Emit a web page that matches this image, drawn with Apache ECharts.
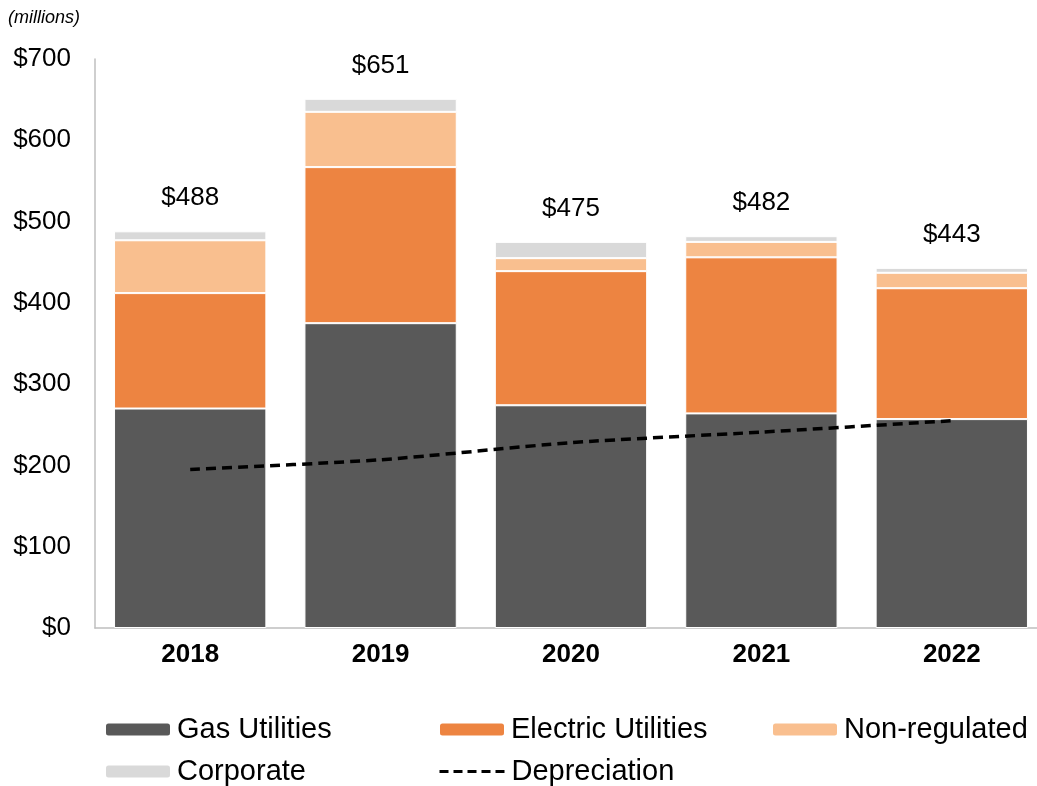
<!DOCTYPE html>
<html lang="en">
<head>
  <meta charset="UTF-8" />
  <title>Capital expenditures</title>
  <script src="https://cdn.jsdelivr.net/npm/echarts@6/dist/echarts.min.js"></script>
  <style>
    html, body { margin: 0; padding: 0; background: #fff; }
    #chart { width: 1037px; height: 786px; }
  </style>
</head>
<body>
  <div id="chart"></div>
  <script>
    var years = ["2018", "2019", "2020", "2021", "2022"];
    var gasUtilities = [270, 375, 274, 264, 257];
    var electricUtilities = [142, 192, 165, 192, 161];
    var nonRegulated = [65, 68, 16, 19, 19];
    var corporate = [11, 16, 20, 7, 6];
    var totals = [488, 651, 475, 482, 443];
    var depreciation = [195, 207, 228, 241, 255];
    var yTicks = [0, 100, 200, 300, 400, 500, 600, 700];

    var font = "'Liberation Sans', Arial, sans-serif";
    var chart = echarts.init(document.getElementById("chart"));

    function barSeries(name, data, color) {
      return {
        name: name,
        type: "bar",
        stack: "capex",
        data: data,
        barCategoryGap: "20%",
        itemStyle: { color: color, borderColor: "#fff", borderWidth: 1 },
        emphasis: { disabled: true }
      };
    }

    var corp = barSeries("Corporate", corporate, "#D9D9D9");
    corp.label = {
      show: true,
      position: "top",
      distance: 20,
      fontFamily: font,
      fontSize: 26,
      color: "#000",
      formatter: function (p) { return "$" + totals[p.dataIndex]; }
    };

    function legendAt(item, left, top) {
      return {
        data: [item],
        left: left,
        top: top,
        itemWidth: 66,
        itemHeight: 14,
        itemGap: 0,
        padding: 0,
        selectedMode: false,
        textStyle: { fontFamily: font, fontSize: 29, color: "#000", padding: [0, 0, 0, 1] }
      };
    }

    chart.setOption({
      animation: false,
      title: {
        text: "(millions)",
        left: 8,
        top: 9,
        padding: 0,
        textStyle: { fontFamily: font, fontSize: 18, fontStyle: "italic", fontWeight: "normal", color: "#000" }
      },
      legend: [
        legendAt("Gas Utilities", 104, 715),
        legendAt("Electric Utilities", 438, 715),
        legendAt("Non-regulated", 771, 715),
        legendAt("Corporate", 104, 757),
        legendAt({
          name: "Depreciation",
          itemStyle: { opacity: 0 },
          lineStyle: { width: 3, type: [9, 5] }
        }, 438, 757)
      ],
      grid: { left: 95, right: -10, top: 59, bottom: 158, outerBoundsMode: "none", containLabel: false },
      xAxis: {
        type: "category",
        data: years,
        axisLine: { lineStyle: { color: "#BFBFBF", width: 1.5 } },
        axisTick: { show: false },
        axisLabel: { margin: 14, fontFamily: font, fontSize: 26, fontWeight: "bold", color: "#000" }
      },
      yAxis: {
        type: "value",
        min: yTicks[0],
        max: yTicks[yTicks.length - 1],
        interval: yTicks[1] - yTicks[0],
        axisLine: { show: true, lineStyle: { color: "#BFBFBF", width: 1.5 } },
        axisTick: { show: false },
        splitLine: { show: false },
        axisLabel: {
          margin: 24,
          fontFamily: font,
          fontSize: 26,
          color: "#000",
          formatter: function (v) { return "$" + v; }
        }
      },
      series: [
        barSeries("Gas Utilities", gasUtilities, "#595959"),
        barSeries("Electric Utilities", electricUtilities, "#ED8441"),
        barSeries("Non-regulated", nonRegulated, "#F9BF8F"),
        corp,
        {
          name: "Depreciation",
          type: "line",
          data: depreciation,
          smooth: 0.25,
          symbol: "none",
          z: 5,
          lineStyle: { color: "#000", width: 3.5, type: [10, 6] },
          itemStyle: { color: "#000" },
          emphasis: { disabled: true }
        }
      ]
    });
  </script>
</body>
</html>
